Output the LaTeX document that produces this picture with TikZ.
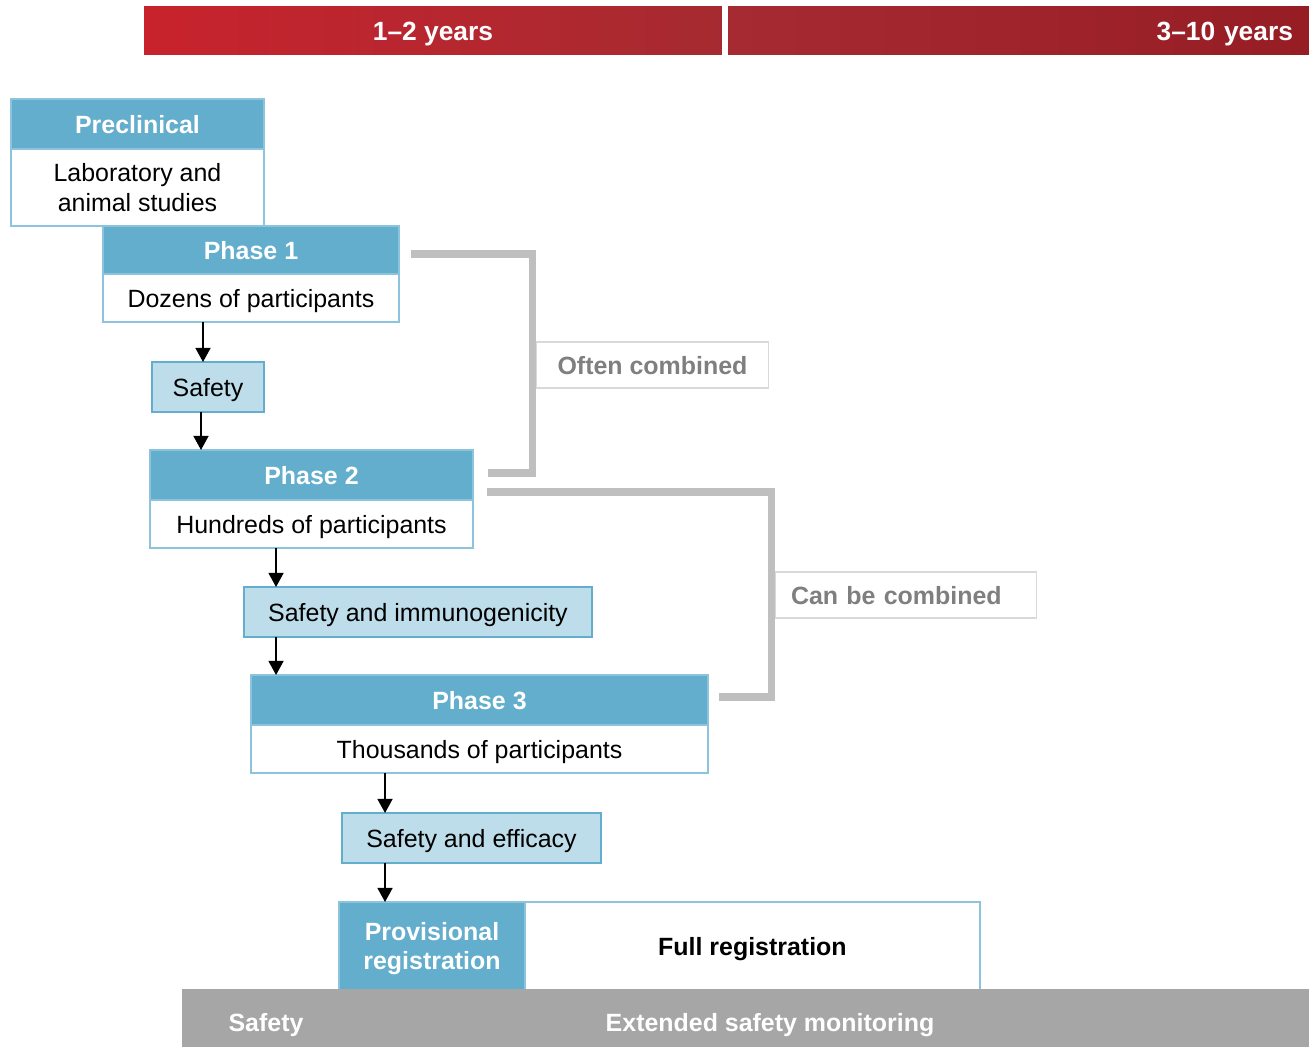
\documentclass[tikz,border=0pt]{standalone}
\usepackage{fontspec}
\setmainfont{Liberation Sans}
\usepackage{xcolor}
\usetikzlibrary{arrows.meta,positioning,calc}
\definecolor{hdblue}{HTML}{63ADCD}
\definecolor{lnblue}{HTML}{8CC4DD}
\definecolor{ltblue}{HTML}{BEDDEA}
\definecolor{redA}{HTML}{C8232D}
\definecolor{redB}{HTML}{A62A31}
\definecolor{redC}{HTML}{971D25}
\definecolor{grbar}{HTML}{A6A6A6}
\definecolor{brgray}{HTML}{BFBFBF}
\definecolor{lbgray}{HTML}{D9D9D9}
\definecolor{txgray}{HTML}{7F7F7F}
\newcommand{\txt}{\fontsize{14.2}{17}\selectfont}

\begin{document}
\begin{tikzpicture}[
  x=0.02cm, y=-0.02cm,
  every node/.style={font=\txt, outer sep=0pt, text depth=0pt},
  redbar/.style={minimum height=0.96cm, inner sep=0pt, text=white,
                 font=\fontsize{15}{18}\selectfont\bfseries},
  head/.style={rectangle, fill=hdblue, draw=lnblue, line width=1.2pt,
               text=white, font=\txt\bfseries, inner sep=0pt, align=center},
  body/.style={rectangle, fill=white, draw=lnblue, line width=1.4pt,
               inner sep=0pt, align=center},
  stepbox/.style={rectangle, fill=ltblue, draw=hdblue, line width=1.6pt,
                  minimum height=1.0cm, inner sep=0pt},
  lbl/.style={rectangle, fill=white, draw=lbgray, line width=0.6pt,
              text=txgray, font=\txt\bfseries, minimum height=0.92cm},
  montext/.style={text=white, font=\txt\bfseries, inner sep=0pt},
  brk/.style={draw=brgray, line width=4pt, line join=miter},
  arr/.style={-{Triangle[length=8pt,width=8.5pt]}, line width=1pt}
]
\useasboundingbox (0,0) rectangle (1309,1047);

% Time bars
\node[redbar, left color=redA, right color=redB, minimum width=11.56cm]
  (yrs1) at (433,31) {1--2 years};
\node[redbar, left color=redB, right color=redC, text width=10.98cm,
  align=right, inner xsep=0.32cm] (yrs2) at (1018.5,31) {3--10 years};

% Nodes
\node[head, minimum width=5.06cm, minimum height=1.0cm] (pre) at (137.5,124) {Preclinical};
\node[body, minimum width=5.06cm, minimum height=1.54cm, below=0pt of pre] (preb)
  {Laboratory and\\animal studies};

\node[head, minimum width=5.92cm, minimum height=0.96cm] (ph1) at (251,250) {Phase 1};
\node[body, minimum width=5.92cm, minimum height=0.96cm, below=0pt of ph1] (ph1b)
  {Dozens of participants};
\node[stepbox, minimum width=2.24cm] (s1) at (208,387) {Safety};

\node[head, minimum width=6.46cm, minimum height=1.0cm] (ph2) at (311.5,475) {Phase 2};
\node[body, minimum width=6.46cm, minimum height=0.96cm, below=0pt of ph2] (ph2b)
  {Hundreds of participants};
\node[stepbox, minimum width=6.96cm] (s2) at (418,612) {Safety and immunogenicity};

\node[head, minimum width=9.14cm, minimum height=1.0cm] (ph3) at (479.5,700) {Phase 3};
\node[body, minimum width=9.14cm, minimum height=0.96cm, below=0pt of ph3] (ph3b)
  {Thousands of participants};
\node[stepbox, minimum width=5.18cm] (s3) at (471.5,838) {Safety and efficacy};

\node[head, minimum width=3.72cm, minimum height=1.76cm] (prov) at (432,946)
  {Provisional\\registration};
\node[body, minimum width=9.1cm, minimum height=1.76cm, right=0pt of prov,
  font=\txt\bfseries] (full) {Full registration};

% Monitoring bar
\node[fill=grbar, minimum width=22.54cm, minimum height=1.16cm, inner sep=0pt]
  (mon) at (745.5,1018) {};
\node[montext] (monl) at (266,1022) {Safety};
\node[montext] (monr) at (770,1022) {Extended safety monitoring};

% Flow arrows
\coordinate (a1) at ($(s1.north)+(-5,0)$);
\coordinate (a2) at ($(s1.south)+(-7,0)$);
\coordinate (a3) at ($(s2.north west)+(32,0)$);
\coordinate (a5) at ($(s3.north west)+(43,0)$);
\draw[arr] (a1 |- ph1b.south) -- (a1);
\draw[arr] (a2) -- (a2 |- ph2.north);
\draw[arr] (a3 |- ph2b.south) -- (a3);
\draw[arr] (a3 |- s2.south) -- (a3 |- ph3.north);
\draw[arr] (a5 |- ph3b.south) -- (a5);
\draw[arr] (a5 |- s3.south) -- (a5 |- prov.north);

% Combination brackets
\node[lbl, minimum width=4.66cm, anchor=west] (often) at (536,365) {Often combined};
\node[lbl, text width=4.6cm, inner xsep=0.32cm, align=left, anchor=west]
  (canbe) at (775,595) {Can be combined};
\draw[brk] ($(ph1.east)+(12,4)$) -- ++(122,0) |- ($(ph2.east)+(15,-2)$);
\draw[brk] ($(ph2.south east)+(14,-8)$) -- ++(285,0) |- ($(ph3.east)+(11,-3)$);

\end{tikzpicture}
\end{document}
